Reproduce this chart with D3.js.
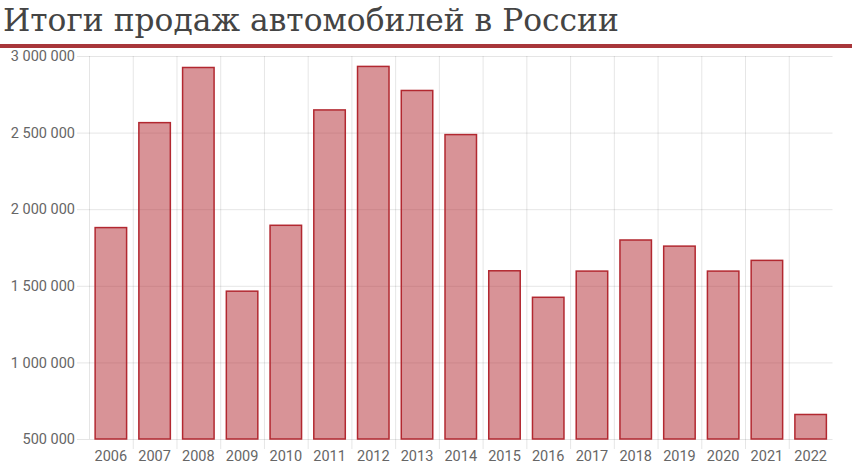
<!DOCTYPE html>
<html><head><meta charset="utf-8">
<script src="https://cdn.jsdelivr.net/npm/d3@7/dist/d3.min.js"></script>
<style>body{margin:0;background:#fff}svg{display:block}</style>
</head><body>
<script>
const years = ["2006","2007","2008","2009","2010","2011","2012","2013","2014","2015","2016","2017","2018","2019","2020","2021","2022"];
const sales = [1880000,2565000,2925000,1465000,1895000,2648000,2932000,2775000,2487000,1598000,1425000,1596000,1799000,1759000,1596000,1666000,660000];
const yTicks = [500000,1000000,1500000,2000000,2500000,3000000];
const titleText = "Итоги продаж автомобилей в России";

(function(){
const W = 855, H = 470;
const svg = d3.select("body").append("svg").attr("width", W).attr("height", H);

svg.append("text").attr("x", 3).attr("y", 31)
  .attr("font-family", "'DejaVu Serif', serif").attr("font-size", 31.3)
  .attr("fill", "#444").text(titleText);
svg.append("rect").attr("x", 0).attr("y", 44).attr("width", 852).attr("height", 4).attr("fill", "#a8363a");

const pl = 89, pr = 832.5, pt = 56, pb = 439;
const x = d3.scaleBand().domain(years).range([pl, pr]).paddingInner(0).paddingOuter(0);
const y = d3.scaleLinear().domain([500000, 3000000]).range([pb, pt]);

const fmt = v => d3.format(",")(v).replace(/,/g, " ");

const gy = svg.append("g").attr("transform", `translate(${pr},0)`);
gy.call(d3.axisLeft(y).tickValues(yTicks).tickSize(pr - 77).tickFormat(fmt).tickPadding(2));
gy.select(".domain").remove();
gy.selectAll(".tick line").attr("stroke", "rgba(0,0,0,0.1)");
gy.selectAll(".tick text").attr("fill", "#666").attr("font-family", "Roboto, sans-serif").attr("font-size", 14.5);

const bounds = years.map(d => x(d));
svg.append("g").selectAll("line").data(bounds).join("line")
  .attr("x1", d => d + 0.5).attr("x2", d => d + 0.5)
  .attr("y1", pt).attr("y2", (d, i) => i === 0 ? pb : pb + 10)
  .attr("stroke", "rgba(0,0,0,0.1)");

const gx = svg.append("g").attr("transform", `translate(0,${pb})`)
  .call(d3.axisBottom(x).tickSize(0).tickPadding(12));
gx.select(".domain").remove();
gx.selectAll(".tick text").attr("fill", "#666").attr("font-family", "Roboto, sans-serif").attr("font-size", 14.5);

const bw = x.bandwidth() * 0.72;
svg.append("g").selectAll("rect").data(years).join("rect")
  .attr("x", d => x(d) + (x.bandwidth() - bw) / 2)
  .attr("width", bw)
  .attr("y", (d, i) => y(sales[i]))
  .attr("height", (d, i) => pb - y(sales[i]))
  .attr("fill", "rgba(178,40,48,0.5)")
  .attr("stroke", "rgb(178,40,48)")
  .attr("stroke-width", 1.5);
})();
</script>
</body></html>
